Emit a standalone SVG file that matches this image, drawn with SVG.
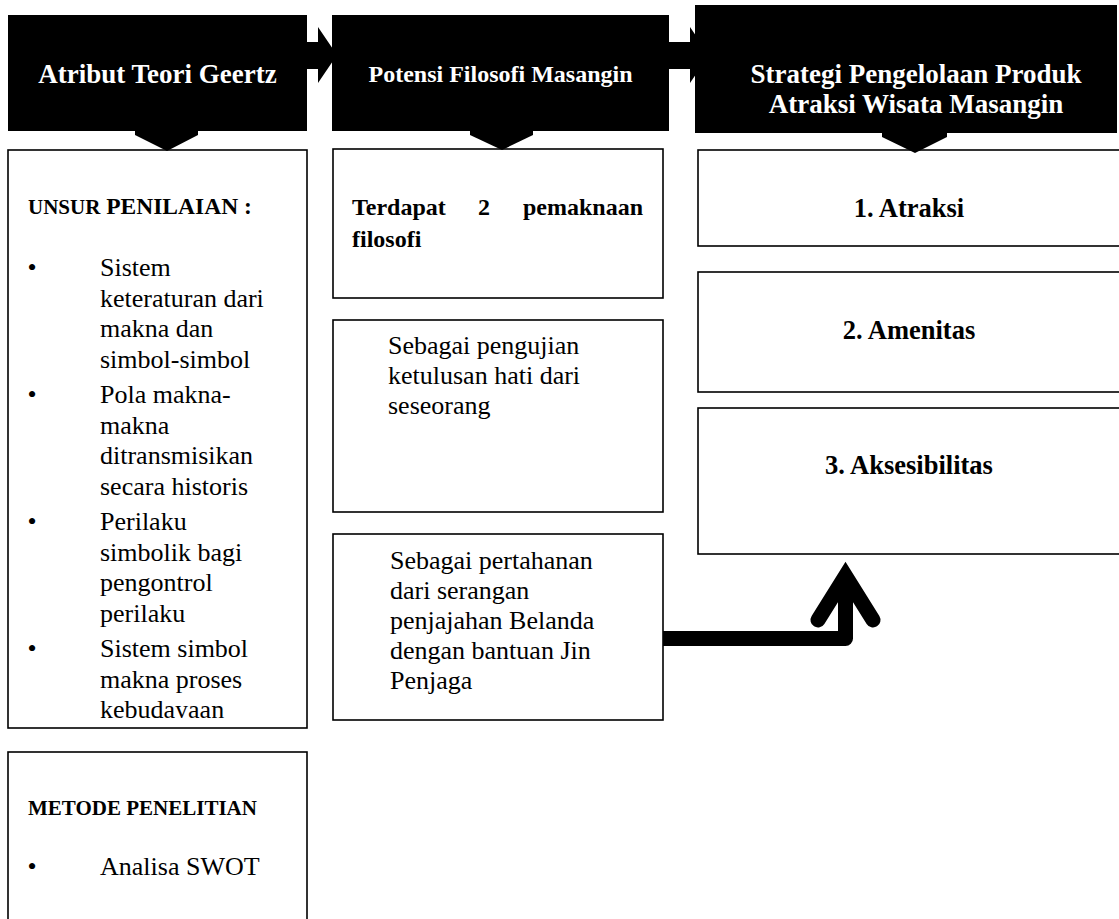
<svg xmlns="http://www.w3.org/2000/svg" width="1119" height="919" viewBox="0 0 1119 919">
<style>
text{font-family:"Liberation Serif","Times New Roman",serif;fill:#000}
.hdr{fill:#000}
.ht{fill:#fff;font-weight:bold;text-anchor:middle}
.box{fill:#fff;stroke:#000;stroke-width:1.6}
.b{font-weight:bold}
.t26{font-size:26px}
.blk{fill:#000}
.conn{fill:none;stroke:#000;stroke-width:15}
</style>
<defs>
<clipPath id="clip1"><rect x="9" y="151" width="297" height="567"/></clipPath>
</defs>
<g id="connectors">
<polygon class="blk" points="306,42 318,42 318,27 337,55 318,83 318,69 306,69"/>
<polygon class="blk" points="668,42 690,42 690,27 709,55 690,83 690,69 668,69"/>
<path class="conn" d="M663,638.5 H845.5 V585" stroke-linejoin="round"/>
<path class="conn" d="M818,620 L845.5,576 L873,620" stroke-linejoin="miter" stroke-linecap="round"/>
</g>
<g id="h1">
<rect class="hdr" x="8" y="15" width="299" height="116"/>
<text class="ht" x="157.5" y="83" font-size="27">Atribut Teori Geertz</text>
</g>
<g id="h2">
<rect class="hdr" x="332" y="15" width="337" height="116"/>
<text class="ht" x="500.5" y="82" font-size="24">Potensi Filosofi Masangin</text>
</g>
<g id="h3">
<rect class="hdr" x="695" y="5" width="422" height="128"/>
<text class="ht" x="916" y="83" font-size="27">Strategi Pengelolaan Produk</text>
<text class="ht" x="916" y="113" font-size="27">Atraksi Wisata Masangin</text>
</g>
<g id="box1">
<rect class="box" x="8" y="150" width="299" height="578"/>
<text class="b" x="28" y="214"><tspan font-size="21">UNSUR</tspan><tspan font-size="23.5"> PENILAIAN :</tspan></text>
<g clip-path="url(#clip1)" class="t26">
<text x="27.5" y="276">•</text>
<text x="100" y="276">Sistem</text>
<text x="100" y="306.5">keteraturan dari</text>
<text x="100" y="337">makna dan</text>
<text x="100" y="367.5">simbol-simbol</text>
<text x="27.5" y="403">•</text>
<text x="100" y="403">Pola makna-</text>
<text x="100" y="433.5">makna</text>
<text x="100" y="464">ditransmisikan</text>
<text x="100" y="494.5">secara historis</text>
<text x="27.5" y="530">•</text>
<text x="100" y="530">Perilaku</text>
<text x="100" y="560.5">simbolik bagi</text>
<text x="100" y="591">pengontrol</text>
<text x="100" y="621.5">perilaku</text>
<text x="27.5" y="657">•</text>
<text x="100" y="657">Sistem simbol</text>
<text x="100" y="687.5">makna proses</text>
<text x="100" y="718">kebudayaan</text>
</g>
</g>
<g id="box-metode">
<rect class="box" x="8" y="752" width="299" height="180"/>
<text class="b" x="28" y="815" font-size="21">METODE PENELITIAN</text>
<text class="t26" x="27.5" y="875">•</text>
<text class="t26" x="100" y="875">Analisa SWOT</text>
</g>
<g id="box-terdapat">
<rect class="box" x="333" y="149" width="330" height="149"/>
<text class="b" x="352" y="215" font-size="24">Terdapat</text>
<text class="b" x="478" y="215" font-size="24">2</text>
<text class="b" x="643" y="215" font-size="24" text-anchor="end">pemaknaan</text>
<text class="b" x="352" y="247" font-size="24">filosofi</text>
</g>
<g id="box-pengujian">
<rect class="box" x="333" y="320" width="330" height="192"/>
<text class="t26" x="388" y="354">Sebagai pengujian</text>
<text class="t26" x="388" y="384">ketulusan hati dari</text>
<text class="t26" x="388" y="414">seseorang</text>
</g>
<g id="box-pertahanan">
<rect class="box" x="333" y="534" width="330" height="186"/>
<text class="t26" x="390" y="569">Sebagai pertahanan</text>
<text class="t26" x="390" y="599">dari serangan</text>
<text class="t26" x="390" y="629">penjajahan Belanda</text>
<text class="t26" x="390" y="659">dengan bantuan Jin</text>
<text class="t26" x="390" y="689">Penjaga</text>
</g>
<g id="box-atraksi">
<rect class="box" x="698" y="150" width="424" height="96"/>
<text class="b" x="909" y="217" font-size="26.5" text-anchor="middle">1. Atraksi</text>
</g>
<g id="box-amenitas">
<rect class="box" x="698" y="272" width="424" height="120"/>
<text class="b" x="909" y="339" font-size="26.5" text-anchor="middle">2. Amenitas</text>
</g>
<g id="box-aksesibilitas">
<rect class="box" x="698" y="408" width="424" height="146"/>
<text class="b" x="909" y="474" font-size="26.5" text-anchor="middle">3. Aksesibilitas</text>
</g>
<g id="down-arrows">
<polygon class="blk" points="135,128 198,128 198,135 167,151 135,135"/>
<polygon class="blk" points="470,128 533,128 533,135 502,150 470,135"/>
<polygon class="blk" points="882,130 947,130 947,137 915,153 882,137"/>
</g>
</svg>
